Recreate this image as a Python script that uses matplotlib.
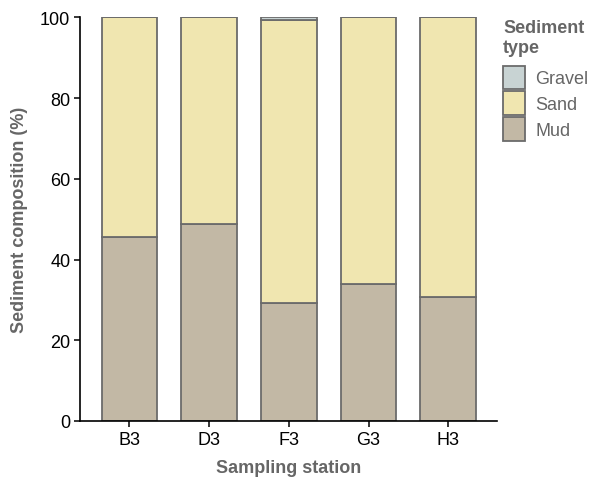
import numpy as np
import matplotlib
matplotlib.use("Agg")
import matplotlib.pyplot as plt
from matplotlib.patches import Patch

plt.rcParams['font.family'] = ['Liberation Sans', 'DejaVu Sans']

# dados
estacoes = ["B3", "D3", "F3", "G3", "H3"]
lama = [45.6, 48.8, 29.2, 33.9, 30.8]
cascalho = [0.0, 0.0, 0.7, 0.0, 0.0]
areia = [100 - m - c for m, c in zip(lama, cascalho)]

cores = {"Gravel": "#c8d3d3", "Sand": "#f0e6b0", "Mud": "#c2b8a5"}
borda = "#6b6b6b"

fig = plt.figure(figsize=(5.93, 4.81), dpi=100)
ax = fig.add_axes([0.1349, 0.1227, 0.703, 0.839])

x = np.arange(len(estacoes))
ax.bar(x, lama, width=0.7, color=cores["Mud"], edgecolor=borda, linewidth=1.3)
ax.bar(x, areia, width=0.7, bottom=lama, color=cores["Sand"], edgecolor=borda, linewidth=1.3)
base = [m + a for m, a in zip(lama, areia)]
ax.bar(x, cascalho, width=0.7, bottom=base, color=cores["Gravel"], edgecolor=borda, linewidth=1.3)

ax.set_xlim(-0.62, 4.61)
ax.set_ylim(0, 100)
ax.set_xticks(x)
ax.set_xticklabels(estacoes, fontsize=13)
ax.set_yticks([0, 20, 40, 60, 80, 100])
ax.tick_params(axis='both', labelsize=13, length=4, width=1.1, pad=3)
ax.spines['top'].set_visible(False)
ax.spines['right'].set_visible(False)
ax.spines['left'].set_linewidth(1.2)
ax.spines['bottom'].set_linewidth(1.2)

ax.set_xlabel("Sampling station", fontsize=13, fontweight='bold', color="#666666", labelpad=8)
ax.set_ylabel("Sediment composition (%)", fontsize=13, fontweight='bold', color="#666666", labelpad=9)

handles = [Patch(facecolor=cores[k], edgecolor=borda, linewidth=1.3, label=k) for k in ["Gravel", "Sand", "Mud"]]
leg = fig.legend(handles=handles, title="Sediment\ntype", loc='upper left',
                 bbox_to_anchor=(0.836, 0.973), frameon=False, fontsize=13,
                 title_fontproperties={'weight': 'bold', 'size': 13},
                 handlelength=1.2, handleheight=1.6, handletextpad=0.6,
                 labelspacing=0.15, borderaxespad=0)
leg._legend_box.align = "left"
leg._legend_box.sep = 7
leg.get_title().set_color("#666666")
for t in leg.get_texts():
    t.set_color("#666666")

fig.savefig("out.png", dpi=100)
